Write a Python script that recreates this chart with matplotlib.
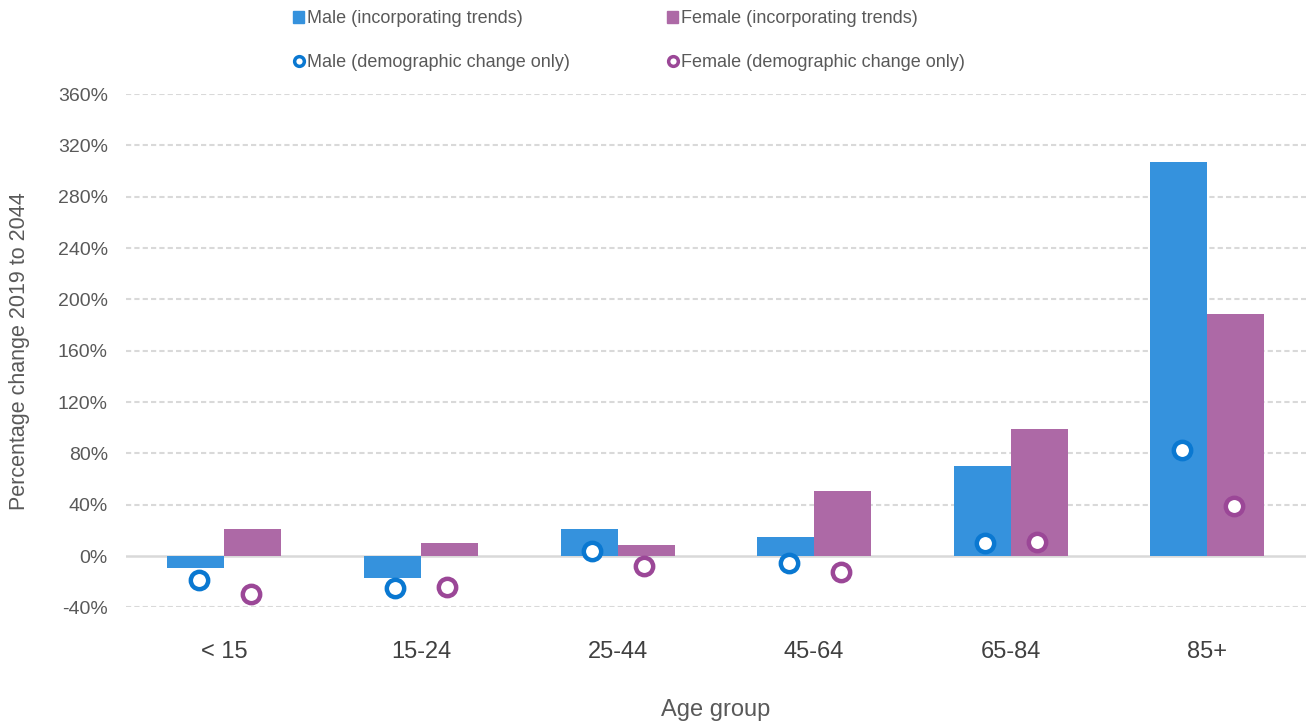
import numpy as np
import matplotlib.pyplot as plt
from matplotlib.lines import Line2D
from matplotlib.patches import Patch
from matplotlib.ticker import FuncFormatter

plt.rcParams['font.family'] = ['Liberation Sans', 'DejaVu Sans']

age_groups = ["< 15", "15-24", "25-44", "45-64", "65-84", "85+"]
male_trends = [-9, -17, 21, 15, 70, 307]
female_trends = [21, 10, 8.5, 51, 99, 189]
male_demog = [-18.5, -25, 4, -5.5, 10, 82.5]
female_demog = [-29.5, -24, -8, -12.5, 11, 39]

MALE_BAR = '#3592dd'
FEMALE_BAR = '#ad69a6'
MALE_DOT = '#0a78d1'
FEMALE_DOT = '#9b4797'
TEXT = '#595959'

fig = plt.figure(figsize=(13.07, 7.24), dpi=100)
ax = fig.add_axes([0.0964, 0.161, 0.9026, 0.709])

x = np.arange(len(age_groups))
w = 0.29
ax.bar(x - w / 2, male_trends, w, color=MALE_BAR, zorder=2)
ax.bar(x + w / 2, female_trends, w, color=FEMALE_BAR, zorder=2)
ax.plot(x - w / 2 + 0.015, male_demog, 'o', ms=12.5, mfc='white', mec=MALE_DOT, mew=3.2, zorder=3)
ax.plot(x + w / 2 - 0.01, female_demog, 'o', ms=12.5, mfc='white', mec=FEMALE_DOT, mew=3.2, zorder=3)

ax.set_xlim(-0.5, len(age_groups) - 0.5)
ax.set_ylim(-40, 360)
ax.set_yticks(np.arange(-40, 361, 40))
ax.yaxis.set_major_formatter(FuncFormatter(lambda v, p: f"{v:.0f}%"))
for t in np.arange(-40, 361, 40):
    if t == 0:
        continue
    ax.axhline(t, color='#d9d9d9', lw=1.5, ls=(0, (2.5, 1.5)), zorder=0)
ax.axhline(0, color='#d9d9d9', lw=1.8, zorder=1)

ax.set_xticks(x)
ax.set_xticklabels(age_groups)
ax.tick_params(axis='x', length=0, pad=24, labelsize=17, labelcolor='#404040')
ax.tick_params(axis='y', length=0, pad=13, labelsize=14, labelcolor=TEXT)
for s in ax.spines.values():
    s.set_visible(False)

ax.set_xlabel("Age group", fontsize=17, color=TEXT, labelpad=26)
ax.set_ylabel("Percentage change 2019 to 2044", fontsize=15.5, color=TEXT, labelpad=20)

handles = [
    Patch(color=MALE_BAR),
    Line2D([], [], ls='none', marker='o', ms=7, mfc='white', mec=MALE_DOT, mew=2.5),
    Patch(color=FEMALE_BAR),
    Line2D([], [], ls='none', marker='o', ms=7, mfc='white', mec=FEMALE_DOT, mew=2.5),
]
labels = ["Male (incorporating trends)", "Male (demographic change only)",
          "Female (incorporating trends)", "Female (demographic change only)"]
leg = fig.legend(handles, labels, ncol=2, loc='upper left', bbox_to_anchor=(0.212, 1.008),
                 frameon=False, fontsize=13, handlelength=0.6, handleheight=0.6,
                 handletextpad=0.15, columnspacing=5.4, labelspacing=1.45)
for t in leg.get_texts():
    t.set_color(TEXT)

fig.savefig('out.png', dpi=100)
